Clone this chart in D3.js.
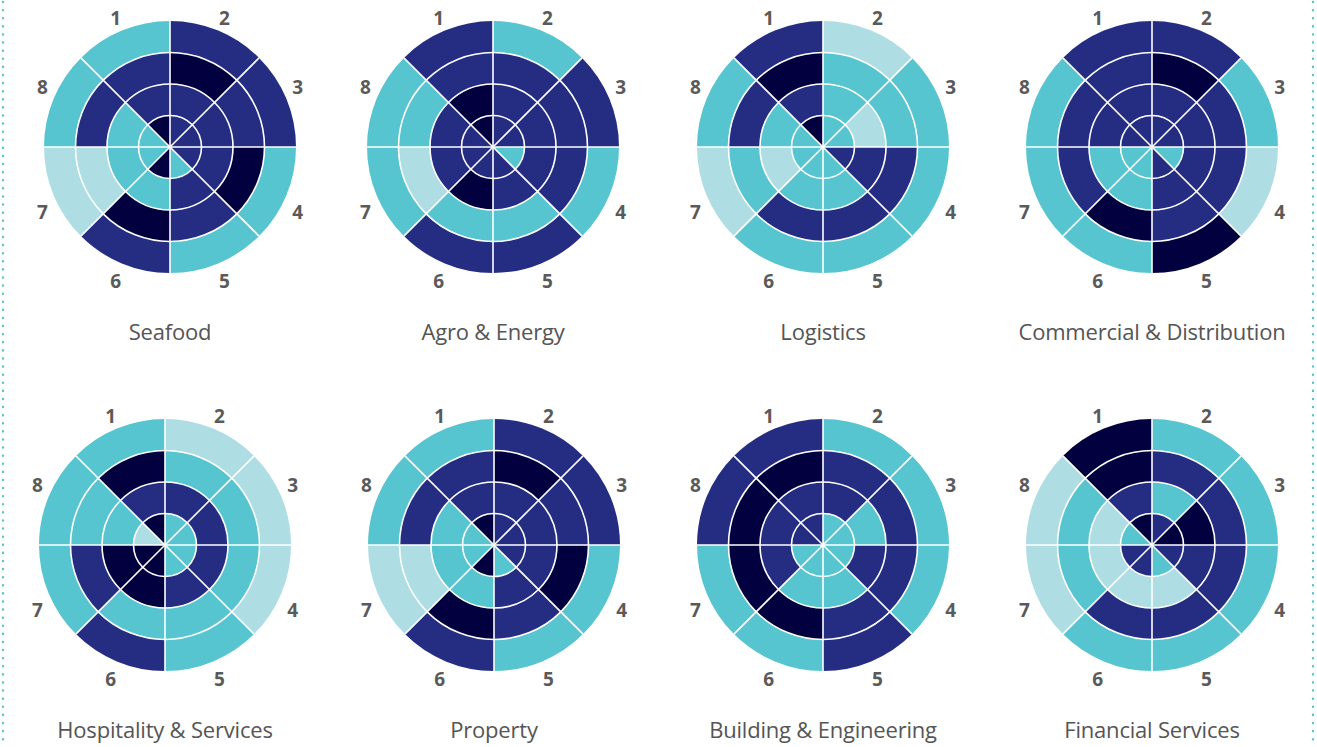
<!DOCTYPE html>
<html>
<head>
<meta charset="utf-8">
<script src="https://cdn.jsdelivr.net/npm/d3@7"></script>
<style>
  html, body { margin: 0; padding: 0; background: #ffffff; }
  svg { display: block; }
</style>
</head>
<body>
<svg id="chart" width="1317" height="747"></svg>
<script>
// sector labels, clockwise from top
var sectors = ["1", "2", "3", "4", "5", "6", "7", "8"];
var titles = ["Seafood", "Agro & Energy", "Logistics", "Commercial & Distribution",
              "Hospitality & Services", "Property", "Building & Engineering", "Financial Services"];

// level per sector, rings listed inner -> outer (1 light, 2 cyan, 3 navy, 4 dark)
var seafood = [[4,3,3,2],[3,3,4,3],[3,3,3,3],[3,3,4,2],[2,3,3,2],[4,2,4,3],[2,2,1,1],[2,2,3,2]];
var agroEnergy = [[4,4,3,3],[3,3,3,2],[3,3,3,3],[2,3,3,2],[3,3,2,3],[3,4,2,3],[3,3,1,2],[3,3,2,2]];
var logistics = [[4,3,4,3],[2,2,2,1],[2,1,2,2],[3,3,3,2],[2,2,3,2],[2,2,3,2],[2,1,2,1],[2,2,3,2]];
var commercial = [[3,3,3,3],[3,3,4,3],[3,3,3,2],[2,3,3,1],[3,3,3,4],[2,2,4,2],[2,2,3,2],[3,3,3,2]];
var hospitality = [[4,3,4,2],[2,3,2,1],[2,3,2,1],[2,3,2,1],[2,3,2,2],[4,4,2,3],[4,4,3,2],[1,2,2,2]];
var property = [[4,3,3,2],[3,3,4,3],[3,3,3,3],[3,3,4,2],[2,3,3,2],[4,2,4,3],[2,2,1,1],[2,2,3,2]];
var building = [[3,3,4,3],[2,3,3,2],[2,2,3,2],[2,3,3,2],[2,2,3,3],[2,2,4,2],[2,3,4,2],[3,3,4,3]];
var financial = [[4,3,4,4],[3,2,3,2],[4,4,3,2],[3,3,3,2],[2,1,3,2],[3,1,3,2],[3,1,2,1],[2,1,2,1]];

var charts = [seafood, agroEnergy, logistics, commercial, hospitality, property, building, financial];

// panel centres (layout only)
var centres = [[170,147],[493,147],[823,147],[1152,147],[165,545],[494,545],[823,545],[1152,545]];

var svg = d3.select("#chart");

var color = d3.scaleOrdinal()
    .domain([1, 2, 3, 4])
    .range(["#aedde3", "#56c5d0", "#252d82", "#03003f"]);

var radius = d3.scaleLinear().domain([0, 4]).range([0, 126]);
var angle = d3.scaleLinear().domain([0, 8]).range([-Math.PI / 4, 2 * Math.PI - Math.PI / 4]);

var arc = d3.arc();

// side labels sit a little closer to the vertical than the sector middle
function labelAngle(i){
  var a = angle(i + 0.5);
  var nudge = 3.5 * Math.PI / 180;
  if (i === 2 || i === 6) return a - nudge;
  if (i === 3 || i === 7) return a + nudge;
  return a;
}

// dotted borders left and right
[3, 1313].forEach(function(x){
  svg.append("line")
    .attr("x1", x).attr("x2", x)
    .attr("y1", 2).attr("y2", 747)
    .attr("stroke", "#56c5d0")
    .attr("stroke-width", 2.4)
    .attr("stroke-linecap", "round")
    .attr("stroke-dasharray", "0.1 8");
});

charts.forEach(function(data, ci){
  var g = svg.append("g")
    .attr("transform", "translate(" + centres[ci][0] + "," + centres[ci][1] + ")");

  var cells = [];
  data.forEach(function(rings, si){
    rings.forEach(function(v, ri){
      cells.push({ sector: si, ring: ri, value: v });
    });
  });

  g.selectAll("path.cell")
    .data(cells)
    .join("path")
      .attr("class", "cell")
      .attr("d", function(d){
        return arc({
          innerRadius: radius(d.ring),
          outerRadius: radius(d.ring + 1),
          startAngle: angle(d.sector),
          endAngle: angle(d.sector + 1)
        });
      })
      .attr("fill", function(d){ return color(d.value); });

  // white separators: rings
  g.selectAll("circle.ring")
    .data(d3.range(1, 4))
    .join("circle")
      .attr("class", "ring")
      .attr("r", function(d){ return radius(d); })
      .attr("fill", "none")
      .attr("stroke", "#ffffff")
      .attr("stroke-width", 1.6);

  // white separators: spokes
  g.selectAll("line.spoke")
    .data(d3.range(8))
    .join("line")
      .attr("class", "spoke")
      .attr("x1", 0).attr("y1", 0)
      .attr("x2", function(d){ return Math.sin(angle(d)) * radius(4); })
      .attr("y2", function(d){ return -Math.cos(angle(d)) * radius(4); })
      .attr("stroke", "#ffffff")
      .attr("stroke-width", 1.6);

  // sector numbers
  g.selectAll("text.num")
    .data(sectors)
    .join("text")
      .attr("class", "num")
      .attr("x", function(d, i){ return Math.sin(labelAngle(i)) * 142; })
      .attr("y", function(d, i){ return -Math.cos(labelAngle(i)) * 142 + 2.5; })
      .attr("text-anchor", "middle")
      .attr("dominant-baseline", "central")
      .attr("font-family", "'Open Sans', sans-serif")
      .attr("font-weight", 700)
      .attr("font-size", 19)
      .attr("fill", "#5a5a5a")
      .text(function(d){ return d; });

  g.append("text")
    .attr("x", 0)
    .attr("y", 184)
    .attr("text-anchor", "middle")
    .attr("dominant-baseline", "central")
    .attr("font-family", "'Open Sans', sans-serif")
    .attr("font-size", 22)
    .attr("letter-spacing", -0.2)
    .attr("fill", "#555555")
    .text(titles[ci]);
});
</script>
</body>
</html>
